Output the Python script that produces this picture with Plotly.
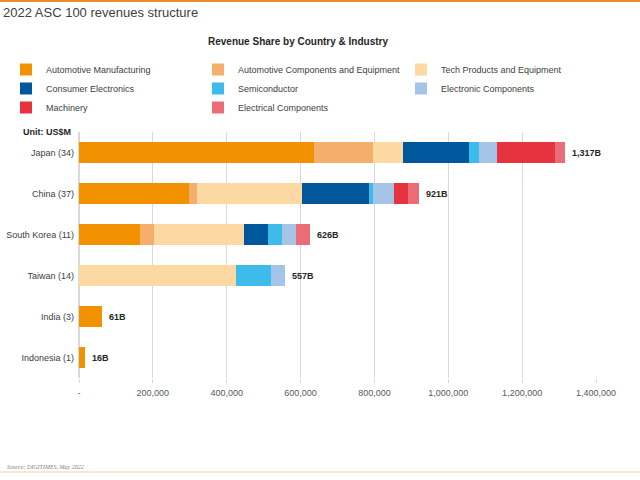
import plotly.graph_objects as go

countries = ["Japan (34)", "China (37)", "South Korea (11)", "Taiwan (14)", "India (3)", "Indonesia (1)"]
industries = ["Automotive Manufacturing", "Automotive Components and Equipment", "Tech Products and Equipment",
              "Consumer Electronics", "Semiconductor", "Electronic Components", "Machinery", "Electrical Components"]
# values in US$M
auto_mfg     = [635000, 297000, 165000, 0, 61000, 16000]
auto_comp    = [162000, 23000, 37000, 0, 0, 0]
tech         = [81000, 284000, 244000, 425000, 0, 0]
consumer     = [178000, 180000, 66000, 0, 0, 0]
semi         = [27000, 11000, 37000, 96000, 0, 0]
elec_comp    = [48000, 57000, 38000, 36000, 0, 0]
machinery    = [159000, 39000, 0, 0, 0, 0]
electrical   = [27000, 30000, 39000, 0, 0, 0]
totals_label = ["1,317B", "921B", "626B", "557B", "61B", "16B"]
tick_vals = [0, 200000, 400000, 600000, 800000, 1000000, 1200000, 1400000]
tick_text = ["-", "200,000", "400,000", "600,000", "800,000", "1,000,000", "1,200,000", "1,400,000"]

series = [auto_mfg, auto_comp, tech, consumer, semi, elec_comp, machinery, electrical]
colors = ["#F39200", "#F5AE6B", "#FCD9A3", "#00579C", "#3DBCEB", "#A5C5E8", "#E5333F", "#EC6C75"]
legend_ids = ["legend", "legend2", "legend3", "legend", "legend2", "legend3", "legend", "legend2"]

fig = go.Figure()
for name, vals, col, lg in zip(industries, series, colors, legend_ids):
    fig.add_trace(go.Bar(
        y=countries, x=vals, name=name, orientation="h",
        marker=dict(color=col, line=dict(width=0)), legend=lg,
    ))

totals = [sum(s[i] for s in series) for i in range(len(countries))]
for c, t, lab in zip(countries, totals, totals_label):
    fig.add_annotation(x=t, y=c, text="<b>" + lab + "</b>", showarrow=False,
                       xanchor="left", xshift=5, font=dict(size=9, color="#262626"))

font = "Liberation Sans, Arial, sans-serif"
L, R, T, B = 79, 44, 132, 102
PW, PH = 640 - L - R, 480 - T - B


def px_x(p):
    return (p - L) / PW


def px_y(p):
    return 1 - (p - T) / PH


leg_common = dict(orientation="v", xref="paper", yref="paper", xanchor="left", yanchor="top",
                  font=dict(size=9, color="#404040", family=font), bgcolor="rgba(0,0,0,0)",
                  traceorder="normal", itemwidth=30)
fig.update_layout(
    width=640, height=480,
    margin=dict(l=L, r=R, t=T, b=B, autoexpand=False),
    paper_bgcolor="white", plot_bgcolor="white",
    barmode="stack", bargap=0.49,
    font=dict(family=font, size=9, color="#404040"),
    legend=dict(x=px_x(6), y=px_y(55), **leg_common),
    legend2=dict(x=px_x(198), y=px_y(55), **leg_common),
    legend3=dict(x=px_x(401), y=px_y(55), **leg_common),
    xaxis=dict(range=[0, 1400000], tickvals=tick_vals, ticktext=tick_text,
               showgrid=True, gridcolor="#D9D9D9", gridwidth=1, zeroline=True, zerolinecolor="#D9D9D9",
               ticks="outside", ticklen=4, tickcolor="#D9D9D9", ticklabelstandoff=2,
               tickfont=dict(size=9, color="#595959"), fixedrange=True),
    yaxis=dict(autorange="reversed", categoryorder="array", categoryarray=countries,
               tickfont=dict(size=9, color="#404040"), ticks="", ticklabelstandoff=4, fixedrange=True),
    showlegend=True,
)
fig.add_annotation(xref="paper", yref="paper", x=px_x(73), y=px_y(132), xanchor="right", yanchor="middle",
                   text="<b>Unit: US$M</b>", showarrow=False, font=dict(size=9, color="#262626"))

fig.update_layout(
    title=dict(text="2022 ASC 100 revenues structure", x=3 / 640, xref="container", y=1 - 12 / 480,
               yref="container", xanchor="left", yanchor="middle",
               font=dict(size=13, color="#404040", family=font)),
)
fig.add_annotation(xref="paper", yref="paper", x=px_x(298), y=px_y(41),
                   xanchor="center", yanchor="middle", text="<b>Revenue Share by Country & Industry</b>",
                   showarrow=False, font=dict(size=10, color="#262626"))
fig.add_annotation(xref="paper", yref="paper", x=px_x(5), y=px_y(467),
                   xanchor="left", yanchor="middle", text="<i>Source: DIGITIMES, May 2022</i>",
                   showarrow=False, font=dict(size=6, color="#7F7F7F", family="Liberation Serif, serif"))
fig.add_shape(type="line", xref="paper", yref="paper", x0=px_x(0), x1=px_x(640),
              y0=px_y(1), y1=px_y(1), line=dict(color="#E8892A", width=2))
fig.add_shape(type="line", xref="paper", yref="paper", x0=px_x(0), x1=px_x(640),
              y0=px_y(472), y1=px_y(472), line=dict(color="#FCE6D2", width=2))

fig.write_html("out.html")
